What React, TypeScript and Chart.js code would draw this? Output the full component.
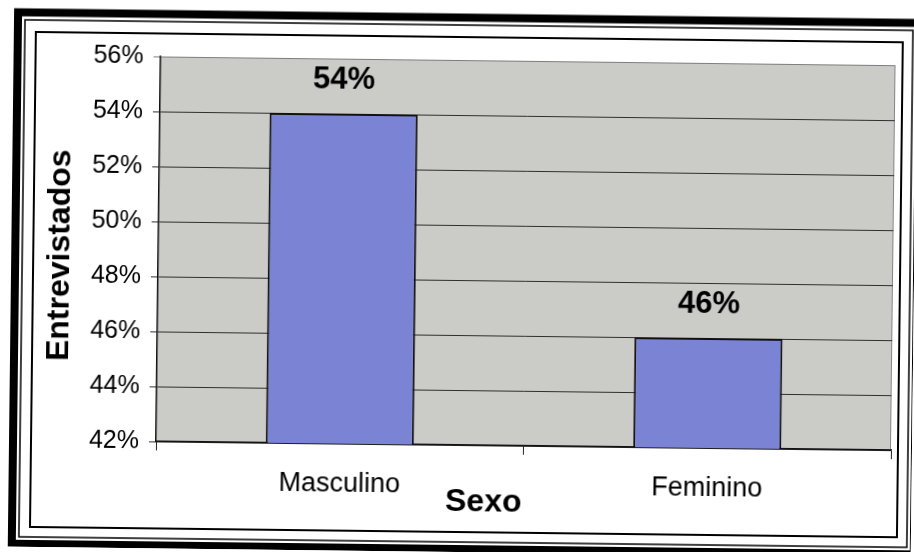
import { useEffect, useRef } from 'react';
import { Chart, registerables } from 'chart.js';

Chart.register(...registerables);

// Survey respondents by sex
const categories = ['Masculino', 'Feminino'];
const shares = [54, 46];
const axisMin = 42;
const axisMax = 56;
const axisStep = 2;
const xTitle = 'Sexo';
const yTitle = 'Entrevistados';

const FONT = '"Liberation Sans", Arial, sans-serif';
const PLOT_BG = '#cbccc8';
const BAR_FILL = '#7b84d4';

// Page frame, plot background, axis titles and value labels
const decorations = {
  id: 'decorations',
  beforeDraw(chart: any) {
    const { ctx, chartArea: a } = chart;
    ctx.save();
    ctx.fillStyle = '#ffffff';
    ctx.fillRect(0, 0, chart.width, chart.height);
    ctx.strokeStyle = '#000000';
    ctx.lineWidth = 8;
    ctx.strokeRect(15, 17.5, 902, 531.5);
    ctx.lineWidth = 1.5;
    ctx.strokeRect(22, 25, 888, 517);
    ctx.lineWidth = 2;
    ctx.strokeRect(33, 37, 867, 495);
    ctx.fillStyle = PLOT_BG;
    ctx.fillRect(a.left, a.top, a.right - a.left, a.bottom - a.top);
    ctx.strokeStyle = '#858585';
    ctx.lineWidth = 1;
    ctx.beginPath();
    ctx.moveTo(a.right - 0.5, a.top);
    ctx.lineTo(a.right - 0.5, a.bottom);
    ctx.stroke();
    ctx.restore();
  },
  afterDatasetsDraw(chart: any) {
    const { ctx } = chart;
    const meta = chart.getDatasetMeta(0);
    ctx.save();
    ctx.fillStyle = '#000000';
    ctx.font = `bold 31px ${FONT}`;
    ctx.textAlign = 'center';
    ctx.textBaseline = 'middle';
    meta.data.forEach((bar: any, i: number) => {
      ctx.fillText(`${shares[i]}%`, bar.x, bar.y - 34);
    });
    ctx.restore();
  },
  afterDraw(chart: any) {
    const { ctx } = chart;
    ctx.save();
    ctx.fillStyle = '#000000';
    ctx.font = `bold 32px ${FONT}`;
    ctx.textAlign = 'center';
    ctx.textBaseline = 'middle';
    ctx.fillText(xTitle, 486, 502);
    ctx.translate(60, 260);
    ctx.rotate(-Math.PI / 2);
    ctx.fillText(yTitle, 0, 0);
    ctx.restore();
  },
};

export default function App() {
  const canvasRef = useRef<HTMLCanvasElement | null>(null);

  useEffect(() => {
    const canvas = canvasRef.current;
    if (!canvas) return;
    const chart = new Chart(canvas, {
      type: 'bar',
      data: {
        labels: categories,
        datasets: [
          {
            data: shares,
            backgroundColor: BAR_FILL,
            borderColor: '#111111',
            borderWidth: 2,
            borderSkipped: false,
            categoryPercentage: 1,
            barPercentage: 0.403,
          },
        ],
      },
      options: {
        responsive: false,
        animation: false,
        devicePixelRatio: 1,
        layout: { padding: { left: 0, top: 60, right: 21, bottom: 0 } },
        plugins: {
          legend: { display: false },
          tooltip: { enabled: false },
        },
        scales: {
          x: {
            offset: true,
            grid: {
              display: true,
              offset: true,
              drawOnChartArea: false,
              drawTicks: true,
              tickLength: 9,
              color: '#222222',
              lineWidth: 1,
            },
            border: { display: true, color: '#111111', width: 1.5 },
            ticks: {
              color: '#000000',
              font: { family: FONT, size: 27 },
              padding: 15,
              maxRotation: 0,
            },
            afterFit: (scale: any) => {
              scale.height = 107;
            },
          },
          y: {
            min: axisMin,
            max: axisMax,
            grid: {
              drawTicks: true,
              tickLength: 7,
              lineWidth: 1,
              color: (c: any) => (c.tick && c.tick.value === axisMax ? '#7d7d7d' : '#2e2e2e'),
            },
            border: { display: true, color: '#111111', width: 1.5 },
            ticks: {
              stepSize: axisStep,
              color: '#000000',
              font: { family: FONT, size: 25 },
              padding: 10,
              callback: (v: any) => `${v}%`,
            },
            afterFit: (scale: any) => {
              scale.width = 158;
            },
          },
        },
      },
      plugins: [decorations],
    });
    return () => chart.destroy();
  }, []);

  return (
    <div style={{ position: 'fixed', left: 0, top: 0, width: 914, height: 552, overflow: 'hidden', background: '#ffffff' }}>
      <div
        style={{
          position: 'absolute',
          left: 0,
          top: 0,
          width: 914,
          height: 552,
          transform: 'rotate(0.68deg)',
          transformOrigin: '457px 276px',
        }}
      >
        <canvas ref={canvasRef} width={914} height={552} style={{ display: 'block' }} />
      </div>
    </div>
  );
}
